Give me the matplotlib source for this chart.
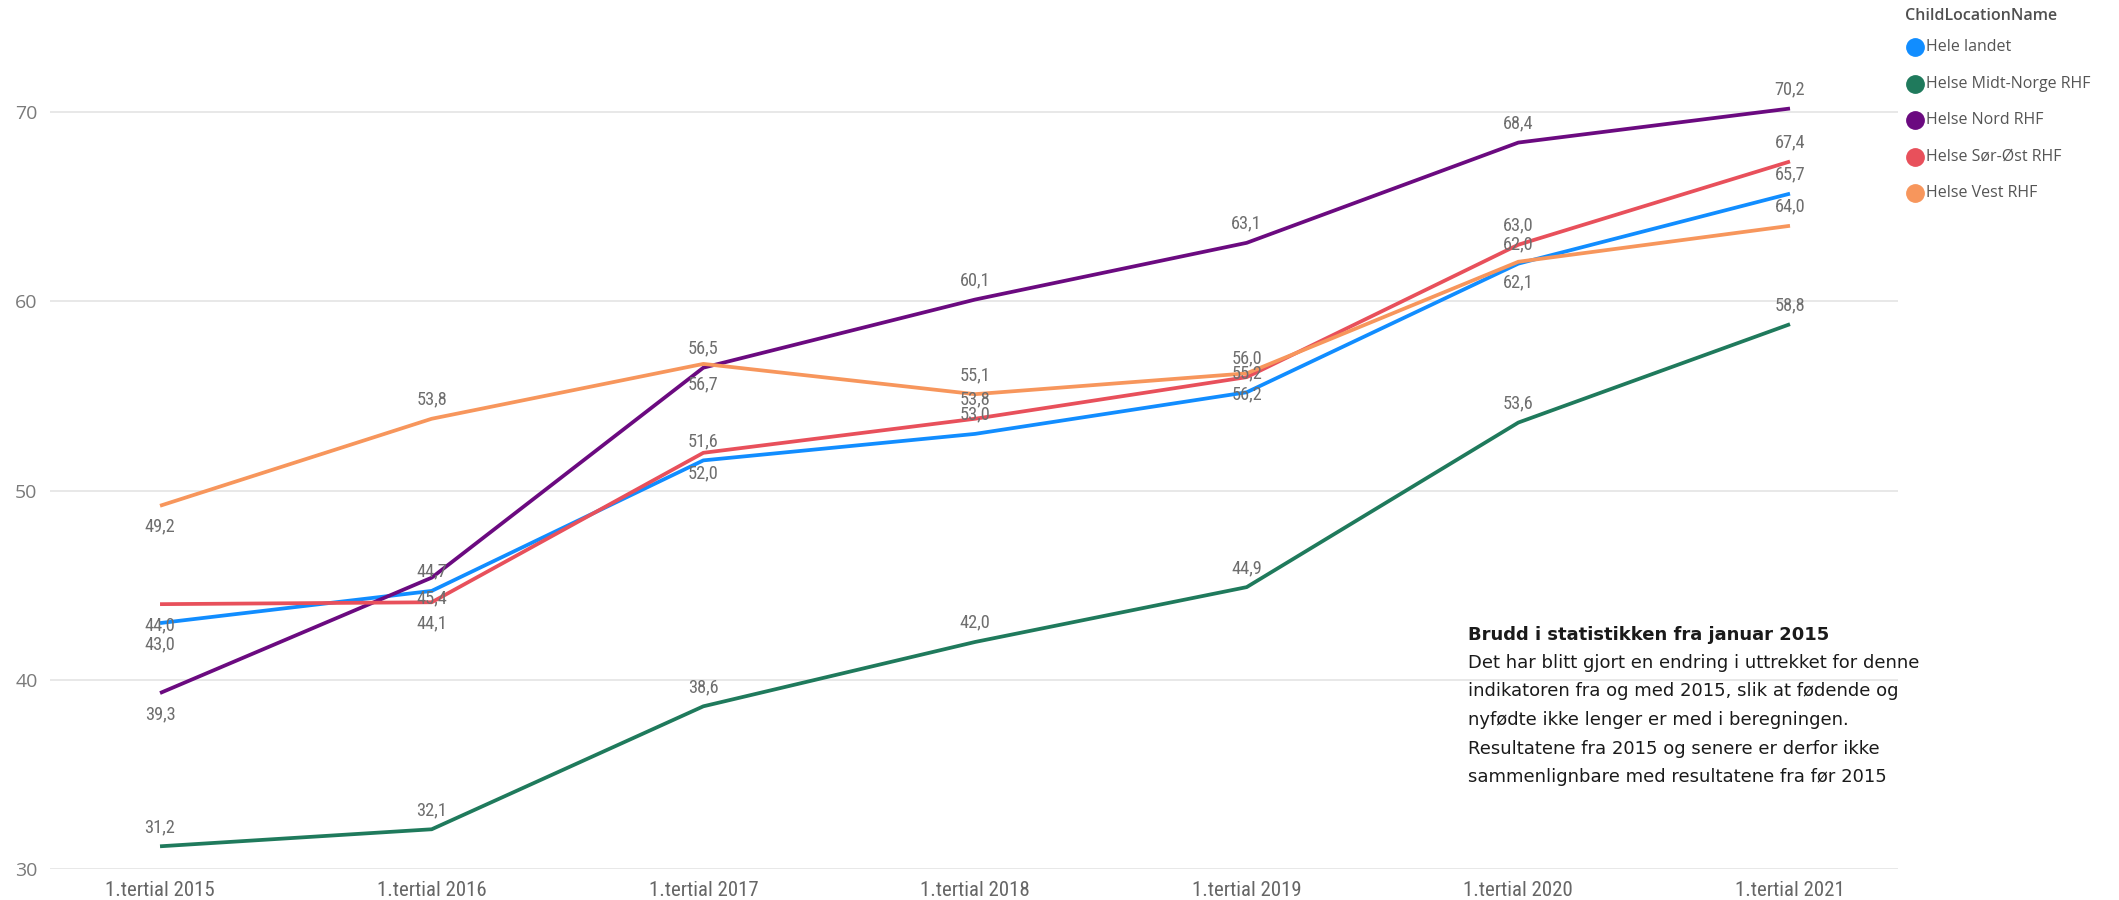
import matplotlib
matplotlib.use("Agg")
import matplotlib.pyplot as plt
from matplotlib import font_manager as fm
from matplotlib.lines import Line2D

# ---------------- data ----------------
periods = ["1.tertial 2015", "1.tertial 2016", "1.tertial 2017", "1.tertial 2018",
           "1.tertial 2019", "1.tertial 2020", "1.tertial 2021"]
series_names = ["Hele landet", "Helse Midt-Norge RHF", "Helse Nord RHF",
                "Helse Sør-Øst RHF", "Helse Vest RHF"]
hele_landet = [43.0, 44.7, 51.6, 53.0, 55.2, 62.0, 65.7]
midt_norge = [31.2, 32.1, 38.6, 42.0, 44.9, 53.6, 58.8]
nord = [39.3, 45.4, 56.5, 60.1, 63.1, 68.4, 70.2]
sor_ost = [44.0, 44.1, 52.0, 53.8, 56.0, 63.0, 67.4]
vest = [49.2, 53.8, 56.7, 55.1, 56.2, 62.1, 64.0]
y_ticks = [30, 40, 50, 60, 70]

note_title = "Brudd i statistikken fra januar 2015"
note_lines = ["Det har blitt gjort en endring i uttrekket for denne",
              "indikatoren fra og med 2015, slik at fødende og",
              "nyfødte ikke lenger er med i beregningen.",
              "Resultatene fra 2015 og senere er derfor ikke",
              "sammenlignbare med resultatene fra før 2015"]

# ---------------- style ----------------
colors = ["#118DFF", "#1F7A5C", "#6B0A80", "#E8505B", "#F7965C"]
# label side per point: +1 above, -1 below
label_sides = [
    [-1, 1, 1, 1, 1, 1, 1],
    [1, 1, 1, 1, 1, 1, 1],
    [-1, -1, 1, 1, 1, 1, 1],
    [-1, -1, -1, 1, 1, 1, 1],
    [-1, 1, -1, 1, -1, -1, 1],
]

available = fm.fontManager.ttflist
names = {f.name for f in available}


def pick_condensed():
    for nm in ["Roboto Condensed", "Liberation Sans Narrow", "Open Sans Condensed"]:
        if nm in names:
            return dict(family=nm)
    for f in available:
        if f.name == "DejaVu Sans" and "ondensed" in str(f.stretch):
            return dict(family="DejaVu Sans", stretch="condensed")
    for f in available:
        if f.name == "DejaVu Sans" and "ondensed" in f.fname:
            return dict(family="DejaVu Sans", stretch="condensed")
    return dict(family="Roboto")


cond = pick_condensed()
ui_font = "Open Sans" if "Open Sans" in names else "DejaVu Sans"

W, H = 2119, 900
fig = plt.figure(figsize=(W / 100, H / 100), dpi=100)
fig.patch.set_facecolor("white")

ax_left, ax_right, ax_bottom, ax_top = 50, 1898, 869, 65
ax = fig.add_axes([ax_left / W, (H - ax_bottom) / H, (ax_right - ax_left) / W,
                   (ax_bottom - ax_top) / H])

xs = list(range(len(periods)))
all_series = [hele_landet, midt_norge, nord, sor_ost, vest]

for vals, col in zip(all_series, colors):
    ax.plot(xs, vals, color=col, lw=2.7, solid_capstyle="butt", zorder=3)

for vals, sides in zip(all_series, label_sides):
    for x, v, s in zip(xs, vals, sides):
        off = 13.8 if s > 0 else -15.0
        ax.annotate(f"{v:.1f}".replace(".", ","), (x, v), xytext=(0, off),
                    textcoords="offset points", ha="center", va="center",
                    fontsize=13.2, color="#6E6E6E", zorder=4, **cond)

ax.set_xlim(-0.405, 6.3975)
ax.set_ylim(30, 72.5)
ax.set_yticks(y_ticks)
ax.set_yticklabels([str(t) for t in y_ticks], fontsize=14, color="#7A7A7A",
                   family=ui_font)
ax.set_xticks(xs)
ax.set_xticklabels(periods, fontsize=15, color="#666666", **cond)
ax.tick_params(axis="y", length=0, pad=9)
ax.tick_params(axis="x", length=0, pad=9)
ax.grid(axis="y", color="#E6E6E6", lw=1.3, zorder=0)
for sp in ax.spines.values():
    sp.set_visible(False)

# legend (manual, figure coordinates in pixels)
fig.text(1905 / W, 1 - 16 / H, "ChildLocationName", ha="left", va="center",
         fontsize=11.5, color="#505050", fontweight="semibold", family=ui_font)
for i, (nm, col) in enumerate(zip(series_names, colors)):
    yy = 47 + i * 36.5
    fig.add_artist(Line2D([1915 / W], [1 - yy / H], marker="o", markersize=12.5,
                          color=col, linestyle="", transform=fig.transFigure))
    fig.text(1926 / W, 1 - yy / H, nm, ha="left", va="center", fontsize=11.5,
             color="#555555", family=ui_font)

# note
fig.text(1468 / W, 1 - 635 / H, note_title, ha="left", va="center", fontsize=13,
         fontweight="bold", color="#1A1A1A", family="DejaVu Sans")
for i, line in enumerate(note_lines):
    fig.text(1468 / W, 1 - (663 + i * 28.5) / H, line, ha="left", va="center",
             fontsize=13, color="#1A1A1A", family="DejaVu Sans")

fig.savefig("out.png", dpi=100, facecolor="white")
